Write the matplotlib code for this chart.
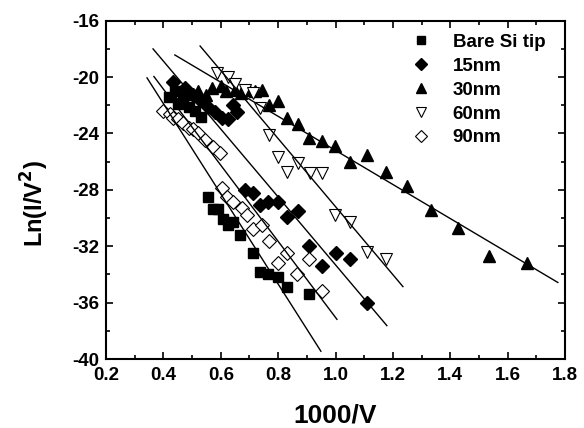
import numpy as np
import matplotlib
matplotlib.use('Agg')
import matplotlib.pyplot as plt
from matplotlib.ticker import MultipleLocator

plt.rcParams['font.family'] = ['Liberation Sans', 'DejaVu Sans']
plt.rcParams['font.weight'] = 'bold'
plt.rcParams['axes.unicode_minus'] = False
plt.rcParams['mathtext.default'] = 'bf'

bareX = [0.42, 0.44, 0.45, 0.47, 0.49, 0.51, 0.53, 0.555, 0.573, 0.59, 0.608, 0.625,
         0.643, 0.667, 0.712, 0.737, 0.765, 0.80, 0.831, 0.908]
bareY = [-21.4, -21.0, -21.9, -21.5, -22.1, -22.4, -22.8, -28.5, -29.35, -29.35, -30.1, -30.5,
         -30.25, -31.2, -32.45, -33.8, -34.0, -34.2, -34.9, -35.4]

nm15X = [0.434, 0.475, 0.503, 0.528, 0.555, 0.58, 0.604, 0.625, 0.643, 0.657,
         0.684, 0.712, 0.737, 0.765, 0.80, 0.831, 0.869, 0.908, 0.953, 1.00, 1.05, 1.11]
nm15Y = [-20.35, -20.8, -21.25, -21.6, -22.1, -22.45, -22.9, -23.0, -22.0, -22.5,
         -28.0, -28.2, -29.05, -28.85, -28.85, -29.9, -29.5, -32.0, -33.4, -32.45, -32.9, -36.05]

nm30X = [0.43, 0.46, 0.49, 0.52, 0.55, 0.57, 0.60, 0.62, 0.65, 0.67, 0.70, 0.72, 0.744,
         0.768, 0.80, 0.831, 0.869, 0.908, 0.953, 0.998, 1.05, 1.11, 1.176, 1.249, 1.333,
         1.427, 1.535, 1.667]
nm30Y = [-21.3, -21.5, -21.2, -21.0, -21.3, -20.8, -20.6, -21.0, -20.9, -21.1, -20.9, -21.0, -20.9,
         -22.0, -21.7, -22.9, -23.3, -24.3, -24.5, -24.9, -26.0, -25.5, -26.7, -27.7, -29.4,
         -30.7, -32.7, -33.2]

nm60X = [0.587, 0.625, 0.65, 0.684, 0.712, 0.737, 0.768, 0.80, 0.831, 0.869, 0.911, 0.953,
         0.998, 1.05, 1.11, 1.176]
nm60Y = [-19.7, -20.0, -20.5, -20.9, -21.1, -22.2, -24.1, -25.7, -26.7, -26.1, -26.8, -26.8,
         -29.8, -30.3, -32.4, -32.9]

nm90X = [0.40, 0.423, 0.434, 0.45, 0.468, 0.49, 0.505, 0.52, 0.545, 0.573, 0.597, 0.604,
         0.621, 0.643, 0.674, 0.69, 0.712, 0.744, 0.768, 0.80, 0.831, 0.866, 0.908, 0.953]
nm90Y = [-22.4, -22.6, -22.9, -23.0, -23.25, -23.6, -23.7, -24.0, -24.45, -24.95, -25.4, -27.9,
         -28.5, -28.85, -29.3, -29.8, -30.8, -30.5, -31.6, -33.2, -32.5, -33.95, -32.9, -35.15]

# linear fits: slope, intercept, x range
fitSlope = [-32.0, -24.09, -12.09, -24.14, -27.0]
fitIntercept = [-9.08, -9.23, -13.11, -5.05, -10.05]
fitXmin = [0.343, 0.364, 0.44, 0.528, 0.367]
fitXmax = [0.949, 1.179, 1.775, 1.235, 1.005]

labels = ['Bare Si tip', '15nm', '30nm', '60nm', '90nm']

fig = plt.figure(figsize=(5.84, 4.28), dpi=100)
ax = fig.add_axes([0.1815, 0.1612, 0.786, 0.7904])

ax.plot(bareX, bareY, 's', color='black', markersize=7, label=labels[0])
ax.plot(nm15X, nm15Y, 'D', color='black', markersize=7, label=labels[1])
ax.plot(nm30X, nm30Y, '^', color='black', markersize=8.5, label=labels[2])
ax.plot(nm60X, nm60Y, 'v', mfc='white', mec='black', mew=0.8, markersize=8.5, label=labels[3])
ax.plot(nm90X, nm90Y, 'D', mfc='white', mec='black', mew=0.8, markersize=7, label=labels[4])

for i in range(len(fitSlope)):
    xs = np.array([fitXmin[i], fitXmax[i]])
    ax.plot(xs, fitSlope[i] * xs + fitIntercept[i], '-', color='black', lw=1.0)

ax.set_xlim(0.2, 1.8)
ax.set_ylim(-40, -16)
ax.xaxis.set_major_locator(MultipleLocator(0.2))
ax.xaxis.set_minor_locator(MultipleLocator(0.1))
ax.yaxis.set_major_locator(MultipleLocator(4))
ax.yaxis.set_minor_locator(MultipleLocator(2))
ax.tick_params(which='both', direction='in', top=True, right=True, width=1.2)
ax.tick_params(which='major', length=5, labelsize=13.5)
ax.tick_params(axis='x', which='major', pad=6)
ax.tick_params(axis='y', which='major', pad=5)
ax.tick_params(which='minor', length=3)
ax.set_xticks(np.arange(0.2, 1.81, 0.2))
ax.set_xticklabels(['%.1f' % v for v in np.arange(0.2, 1.81, 0.2)])
for s in ax.spines.values():
    s.set_linewidth(1.5)

ax.set_xlabel('1000/V', fontsize=19, fontweight='bold', labelpad=14)
ax.set_ylabel('Ln(I/V$^2$)', fontsize=17, fontweight='bold')
ax.yaxis.set_label_coords(-0.12, 0.46)

leg = ax.legend(loc='upper left', bbox_to_anchor=(0.633, 1.0), frameon=False,
                fontsize=13.5, labelspacing=0.36, handletextpad=1.1, handlelength=1.2,
                markerscale=0.85, borderaxespad=0.3)

fig.savefig('out.png', dpi=100)
